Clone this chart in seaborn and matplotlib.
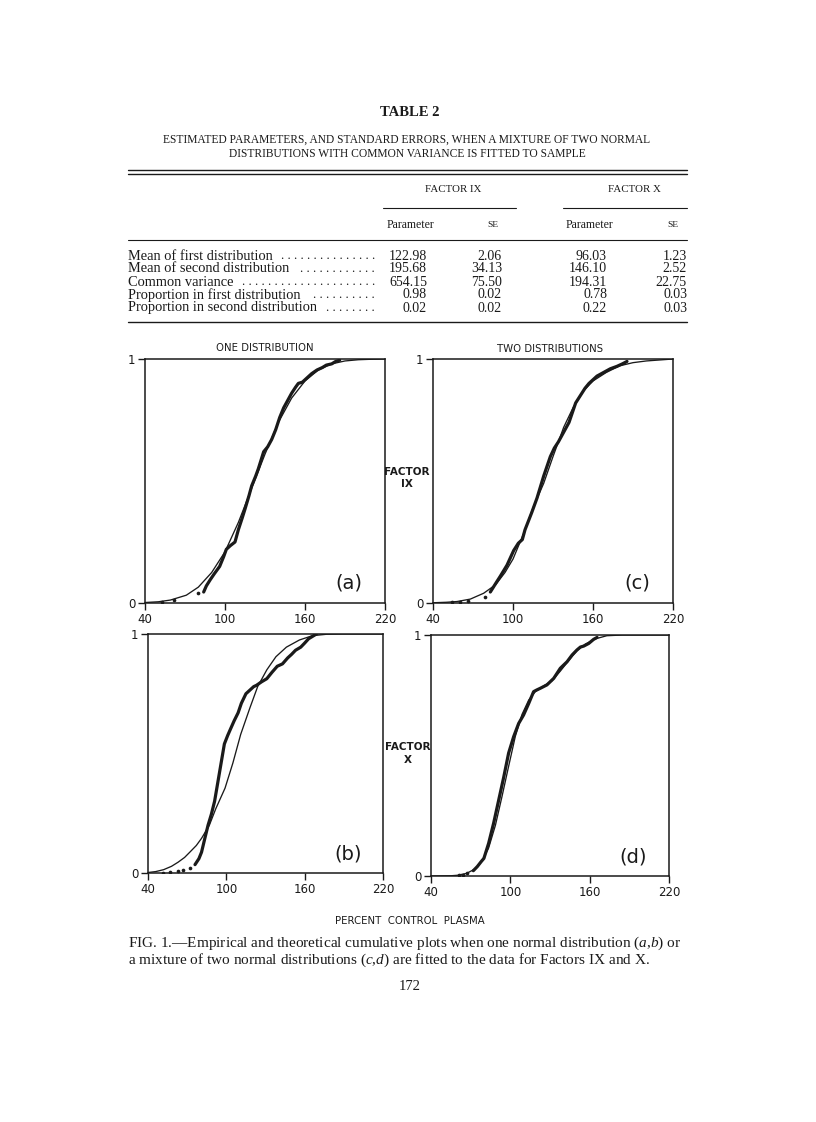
import matplotlib
matplotlib.use("Agg")
import matplotlib.pyplot as plt
from matplotlib.lines import Line2D
import seaborn as sns

# ---------------- table data ----------------
row_labels = [
    "Mean of first distribution",
    "Mean of second distribution",
    "Common variance",
    "Proportion in first distribution",
    "Proportion in second distribution",
]
row_dots = [15, 12, 21, 10, 8]
ix_param = ["122.98", "195.68", "654.15", "0.98", "0.02"]
ix_se = ["2.06", "34.13", "75.50", "0.02", "0.02"]
x_param = ["96.03", "146.10", "194.31", "0.78", "0.22"]
x_se = ["1.23", "2.52", "22.75", "0.03", "0.03"]

# ---------------- curves ----------------
# (a) Factor IX, one distribution
a_theo_x = [40, 50, 59, 71, 80, 90, 100, 110, 120, 130, 140, 150, 160, 170, 180, 190, 200, 210, 220]
a_theo_y = [0.002, 0.005, 0.012, 0.032, 0.065, 0.125, 0.21, 0.33, 0.47, 0.61, 0.74, 0.84, 0.91, 0.955, 0.98, 0.992, 0.997, 0.999, 1.0]
a_dots_x = [53, 62, 80]
a_dots_y = [0.005, 0.012, 0.04]
a_emp_x = [84, 86, 89, 92, 96, 99, 101, 104, 107.5, 110, 113, 115, 118, 120, 123, 125, 129, 132, 135, 138, 141, 144, 146, 150, 153, 155, 158, 161, 165, 169, 173, 176, 180, 183, 186]
a_emp_y = [0.045, 0.07, 0.096, 0.12, 0.15, 0.19, 0.22, 0.235, 0.25, 0.30, 0.35, 0.385, 0.44, 0.48, 0.52, 0.55, 0.62, 0.64, 0.67, 0.71, 0.76, 0.80, 0.82, 0.86, 0.885, 0.90, 0.905, 0.92, 0.94, 0.955, 0.965, 0.975, 0.98, 0.99, 0.995]

# (c) Factor IX, two distributions
c_theo_x = [40, 50, 58, 68, 78, 87, 94, 100, 108, 115, 123, 130, 138, 145, 153, 160, 170, 180, 190, 200, 210, 220]
c_theo_y = [0.001, 0.003, 0.006, 0.016, 0.04, 0.075, 0.125, 0.18, 0.285, 0.39, 0.49, 0.60, 0.72, 0.80, 0.87, 0.91, 0.945, 0.972, 0.985, 0.992, 0.996, 1.0]
c_dots_x = [54, 60, 66, 79]
c_dots_y = [0.004, 0.006, 0.01, 0.025]
c_emp_x = [83, 87, 90.5, 95.5, 100.5, 104, 107, 109, 114, 118, 123, 128, 131, 134, 138, 142, 147, 150.5, 154, 157, 160, 163, 168, 173, 178, 182, 185.5]
c_emp_y = [0.045, 0.08, 0.11, 0.155, 0.215, 0.245, 0.26, 0.30, 0.37, 0.43, 0.52, 0.60, 0.635, 0.66, 0.70, 0.74, 0.82, 0.85, 0.88, 0.90, 0.915, 0.93, 0.945, 0.96, 0.97, 0.98, 0.99]

# (b) Factor X, one distribution
b_theo_x = [40, 46, 52, 58, 63, 68, 72, 77, 81, 87, 92, 99, 105, 111, 118, 124, 131, 138, 146, 156, 166, 177, 190, 205, 220]
b_theo_y = [0.002, 0.006, 0.014, 0.028, 0.045, 0.065, 0.087, 0.115, 0.145, 0.20, 0.27, 0.355, 0.46, 0.58, 0.69, 0.78, 0.85, 0.905, 0.945, 0.975, 0.993, 0.999, 1.0, 1.0, 1.0]
b_dots_x = [51.5, 57, 63, 67, 72]
b_dots_y = [0.0, 0.006, 0.01, 0.014, 0.02]
b_emp_x = [76, 79, 81, 83.5, 86, 88.5, 91, 93.5, 96, 98.5, 101, 103, 106, 109, 111.5, 115, 118, 121, 123, 127, 131, 135, 139, 143, 147, 150, 153, 157, 160, 163, 166, 169]
b_emp_y = [0.035, 0.06, 0.087, 0.144, 0.20, 0.245, 0.30, 0.38, 0.46, 0.54, 0.575, 0.60, 0.637, 0.67, 0.71, 0.75, 0.765, 0.78, 0.785, 0.80, 0.813, 0.84, 0.865, 0.875, 0.90, 0.915, 0.932, 0.945, 0.962, 0.98, 0.99, 1.0]

# (d) Factor X, two distributions
d_theo_x = [40, 55, 60, 67, 73.5, 78.5, 83.5, 88.7, 93.7, 98.7, 103.8, 108.8, 113.9, 118.9, 125, 131.5, 137.8, 144, 150.4, 156.7, 164.3, 173, 185, 200, 220]
d_theo_y = [0.0, 0.001, 0.003, 0.011, 0.03, 0.062, 0.115, 0.21, 0.33, 0.455, 0.58, 0.67, 0.73, 0.765, 0.788, 0.81, 0.85, 0.893, 0.935, 0.962, 0.984, 0.997, 1.0, 1.0, 1.0]
d_dots_x = [61, 64, 67]
d_dots_y = [0.004, 0.006, 0.011]
d_emp_x = [72, 75, 78, 80, 83.6, 87.4, 91.2, 95, 98.7, 102.5, 106.3, 110, 113.9, 117.6, 120, 122.7, 127.7, 132.8, 137.8, 142.9, 146.7, 150.4, 153, 155.5, 159.3, 163, 165.6]
d_emp_y = [0.022, 0.039, 0.06, 0.073, 0.136, 0.22, 0.315, 0.41, 0.51, 0.578, 0.633, 0.668, 0.716, 0.765, 0.772, 0.779, 0.793, 0.82, 0.862, 0.889, 0.917, 0.938, 0.95, 0.954, 0.965, 0.982, 0.99]

INK = "#1a1a1a"

sns.set_theme(style="white")
plt.rcParams["font.family"] = ["DejaVu Sans"]
plt.rcParams["mathtext.fontset"] = "custom"
plt.rcParams["mathtext.it"] = "Liberation Serif:italic"
plt.rcParams["mathtext.rm"] = "Liberation Serif"

W, H = 816, 1122
fig = plt.figure(figsize=(W / 100, H / 100), dpi=100)
fig.patch.set_facecolor("white")

def fx(px):
    return px / W

def fy(py):
    return 1 - py / H

def txt(px, py, s, size=9.5, ha="left", family="Liberation Serif", **kw):
    fig.text(fx(px), fy(py), s, ha=ha, va="center", fontsize=size, family=family, color=INK, **kw)

def hline(x0, x1, py, lw=0.9):
    fig.add_artist(Line2D([fx(x0), fx(x1)], [fy(py), fy(py)], transform=fig.transFigure, color=INK, lw=lw))

# ---------------- table ----------------
txt(410, 113, "TABLE 2", size=10.5, ha="center", weight="bold")
txt(407, 140, "ESTIMATED PARAMETERS, AND STANDARD ERRORS, WHEN A MIXTURE OF TWO NORMAL", size=8.3, ha="center")
txt(407, 154, "DISTRIBUTIONS WITH COMMON VARIANCE IS FITTED TO SAMPLE", size=8.3, ha="center")

hline(128, 687, 170, lw=1.0)
hline(128, 687, 174, lw=1.0)
txt(453, 190, "FACTOR IX", size=7.8, ha="center")
txt(634, 190, "FACTOR X", size=7.8, ha="center")
hline(383, 516, 208, lw=0.8)
hline(563, 687, 208, lw=0.8)
txt(410, 225, "Parameter", size=8.5, ha="center")
txt(493, 225, "SE", size=6.8, ha="center")
txt(589, 225, "Parameter", size=8.5, ha="center")
txt(673, 225, "SE", size=6.8, ha="center")
hline(128, 687, 240, lw=0.8)

row_y = [256, 269, 282, 295, 308]
for i, yy in enumerate(row_y):
    txt(128, yy, row_labels[i], size=10.4)
    txt(375, yy, " ".join(["."] * row_dots[i]), size=9.3, ha="right")
    txt(427, yy, ix_param[i], size=10.0, ha="right")
    txt(502, yy, ix_se[i], size=10.0, ha="right")
    txt(607, yy, x_param[i], size=10.0, ha="right")
    txt(687, yy, x_se[i], size=10.0, ha="right")
hline(128, 687, 322, lw=1.0)

# ---------------- panels ----------------
def make_ax(left, top, right, bottom):
    return fig.add_axes([fx(left), fy(bottom), fx(right - left), (bottom - top) / H])

def draw_panel(ax, tx, ty, dx, dy, ex, ey, letter):
    sns.lineplot(x=tx, y=ty, ax=ax, color=INK, linewidth=0.95, sort=False, estimator=None)
    sns.lineplot(x=ex, y=ey, ax=ax, color=INK, linewidth=2.3, sort=False, estimator=None)
    sns.scatterplot(x=dx, y=dy, ax=ax, color=INK, s=7, linewidth=0)
    ax.set_xlim(40, 220)
    ax.set_ylim(0, 1)
    ax.set_xticks([40, 100, 160, 220])
    ax.set_yticks([0, 1])
    ax.set_yticklabels(["0", "1"])
    ax.tick_params(axis="both", direction="out", length=5, width=1, color=INK,
                   labelsize=8.5, labelcolor=INK, pad=2, bottom=True, left=True)
    ax.set_xlabel("")
    ax.set_ylabel("")
    for sp in ax.spines.values():
        sp.set_color(INK)
        sp.set_linewidth(1.1)
    ax.text(0.85, 0.08, letter, transform=ax.transAxes, ha="center", va="center",
            fontsize=14, color=INK)
    ax.set_facecolor("white")

ax_a = make_ax(145, 359, 385, 603)
draw_panel(ax_a, a_theo_x, a_theo_y, a_dots_x, a_dots_y, a_emp_x, a_emp_y, "(a)")
ax_c = make_ax(433, 359, 673, 603)
draw_panel(ax_c, c_theo_x, c_theo_y, c_dots_x, c_dots_y, c_emp_x, c_emp_y, "(c)")
ax_b = make_ax(148, 634, 383, 873)
draw_panel(ax_b, b_theo_x, b_theo_y, b_dots_x, b_dots_y, b_emp_x, b_emp_y, "(b)")
ax_d = make_ax(431, 635, 669, 876)
draw_panel(ax_d, d_theo_x, d_theo_y, d_dots_x, d_dots_y, d_emp_x, d_emp_y, "(d)")

txt(265, 348, "ONE DISTRIBUTION", size=7.3, ha="center", family="DejaVu Sans")
txt(550, 349, "TWO DISTRIBUTIONS", size=7.3, ha="center", family="DejaVu Sans")
txt(407, 472, "FACTOR", size=7.5, ha="center", family="DejaVu Sans", weight="bold")
txt(407, 484, "IX", size=7.5, ha="center", family="DejaVu Sans", weight="bold")
txt(408, 747, "FACTOR", size=7.5, ha="center", family="DejaVu Sans", weight="bold")
txt(408, 760, "X", size=7.5, ha="center", family="DejaVu Sans", weight="bold")

txt(410, 921, "PERCENT  CONTROL  PLASMA", size=7.3, ha="center", family="DejaVu Sans")
caption = ("FIG. 1.\u2014Empirical and theoretical cumulative plots when one normal distribution ($a{,}b$) or\n"
           "a mixture of two normal distributions ($c{,}d$) are fitted to the data for Factors IX and X.")
fig.text(fx(128), fy(952), caption, ha="left", va="center", fontsize=11.0,
         family="Liberation Serif", color=INK, linespacing=0.95)
txt(410, 987, "172", size=10.5, ha="center")

fig.savefig("out.png", dpi=100, facecolor="white")
